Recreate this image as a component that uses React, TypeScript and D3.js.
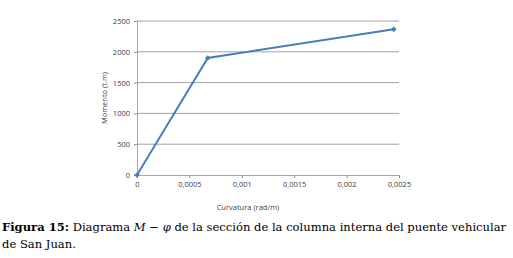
import React, { useRef, useEffect } from 'react';
import * as d3 from 'd3';

// curvatura (rad/m) vs momento (t.m)
const curvatura = [0, 0.000675, 0.00245];
const momento = [0, 1900, 2365];
const xTicks = [0, 0.0005, 0.001, 0.0015, 0.002, 0.0025];
const yTicks = [0, 500, 1000, 1500, 2000, 2500];

const fmt = (v: number) => String(v).replace('.', ',');
const SANS = 'Open Sans, Liberation Sans, sans-serif';
const SERIF = 'DejaVu Serif, serif';

const App: React.FC = () => {
    const svgRef = useRef<SVGSVGElement | null>(null);

    useEffect(() => {
        if (!svgRef.current) return;
        const svg = d3.select(svgRef.current);
        svg.selectAll('*').remove();

        const margin = { left: 137, right: 114, top: 21, bottom: 83 };
        const W = 513, H = 258;
        const innerW = W - margin.left - margin.right;
        const innerH = H - margin.top - margin.bottom;

        const x = d3.scaleLinear().domain([0, 0.0025]).range([0, innerW]);
        const y = d3.scaleLinear().domain([0, 2500]).range([innerH, 0]);

        const g = svg.append('g').attr('transform', `translate(${margin.left},${margin.top})`);

        // gridlines
        g.selectAll('.grid')
            .data(yTicks.slice(1))
            .enter().append('line')
            .attr('x1', 0).attr('x2', innerW)
            .attr('y1', d => y(d)).attr('y2', d => y(d))
            .attr('stroke', '#8c8c8c').attr('stroke-width', 0.8);

        // y axis
        const ya = g.append('g')
            .call(d3.axisLeft(y).tickValues(yTicks).tickSize(3).tickPadding(4).tickFormat(d => String(d)));
        ya.select('.domain').attr('stroke', '#a6a6a6');
        ya.selectAll('.tick line').attr('stroke', '#8c8c8c');
        ya.selectAll('.tick text').attr('fill', '#404040').style('font-size', '7.5px').style('font-family', SANS);

        // x axis
        const xa = g.append('g')
            .attr('transform', `translate(0,${innerH})`)
            .call(d3.axisBottom(x).tickValues(xTicks).tickSize(3).tickPadding(4).tickFormat(d => fmt(d as number)));
        xa.select('.domain').attr('stroke', '#a6a6a6');
        xa.selectAll('.tick line').attr('stroke', '#8c8c8c');
        xa.selectAll('.tick text').attr('fill', '#404040').style('font-size', '7.5px').style('font-family', SANS);

        const pts = curvatura.map((c, i) => [c, momento[i]] as [number, number]);

        g.append('path')
            .datum(pts)
            .attr('fill', 'none')
            .attr('stroke', '#4a7ebb')
            .attr('stroke-width', 2)
            .attr('d', d3.line<[number, number]>().x(d => x(d[0])).y(d => y(d[1])));

        g.selectAll('.pt')
            .data(pts)
            .enter().append('path')
            .attr('transform', d => `translate(${x(d[0])},${y(d[1])}) rotate(45)`)
            .attr('d', d3.symbol().type(d3.symbolSquare).size(16)())
            .attr('fill', '#4a7ebb');

        // axis titles
        svg.append('text')
            .attr('transform', `translate(107,98) rotate(-90)`)
            .attr('text-anchor', 'middle')
            .attr('fill', '#404040')
            .style('font-size', '7.5px').style('font-family', SANS)
            .text('Momento  (t.m)');

        svg.append('text')
            .attr('x', 248)
            .attr('y', 210)
            .attr('text-anchor', 'middle')
            .attr('fill', '#404040')
            .style('font-size', '7.5px').style('font-family', SANS)
            .text('Curvatura (rad/m)');

        // caption: font size fitted so the first line spans the width
        const cap = svg.append('text')
            .attr('x', 2).attr('y', 231)
            .style('font-size', '12px').style('font-family', SERIF)
            .attr('fill', '#000');
        cap.append('tspan').attr('font-weight', 'bold').text('Figura 15:');
        cap.append('tspan').text(' Diagrama ');
        cap.append('tspan').attr('font-style', 'italic').text('M');
        cap.append('tspan').text(' − ');
        cap.append('tspan').attr('font-style', 'italic').text('φ');
        cap.append('tspan').text(' de la sección de la columna interna del puente vehicular');

        const w = (cap.node() as SVGTextElement).getComputedTextLength();
        const fs = w > 0 ? Math.min(12, 12 * 505 / w) : 10.5;
        cap.style('font-size', `${fs}px`);

        svg.append('text')
            .attr('x', 2).attr('y', 248)
            .style('font-size', `${fs}px`).style('font-family', SERIF)
            .attr('fill', '#000')
            .text('de San Juan.');
    }, []);

    return (
        <svg ref={svgRef} width={513} height={258}
            style={{ position: 'absolute', left: 0, top: 0, background: '#fff' }} />
    );
};

export default App;
